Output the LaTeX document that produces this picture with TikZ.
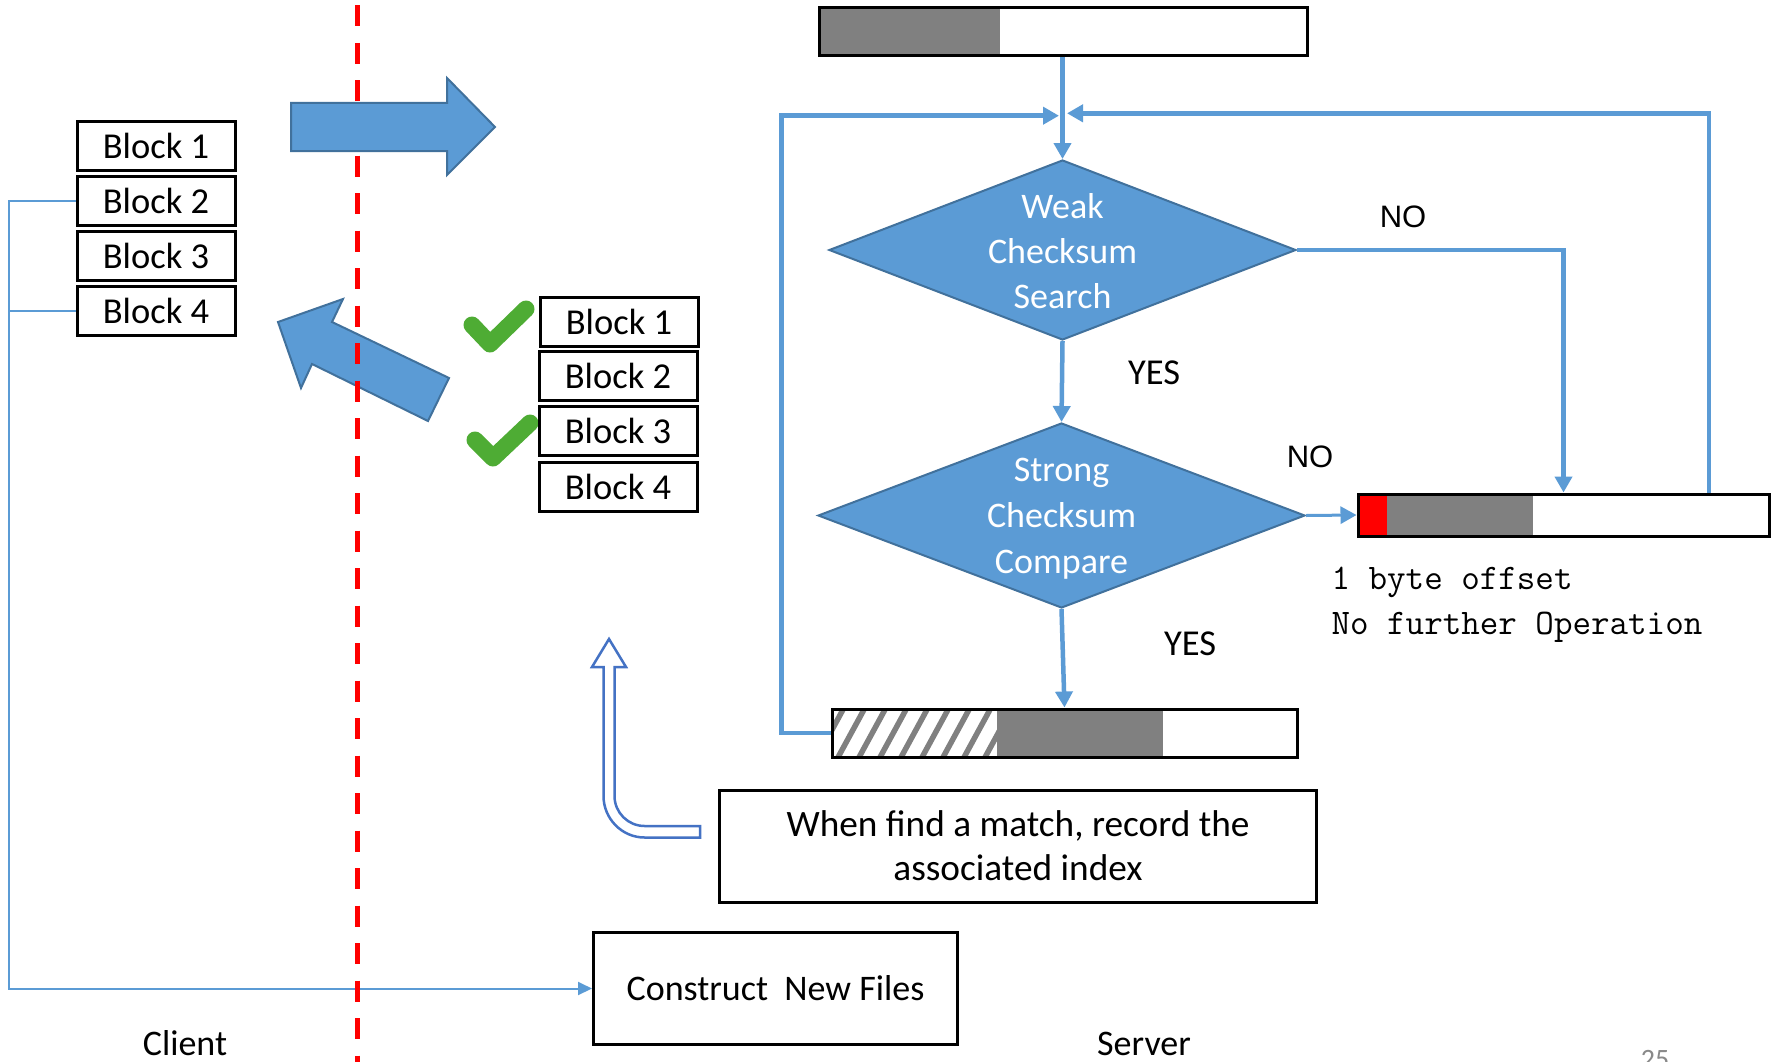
\documentclass[tikz,border=0pt]{standalone}
\usepackage{fontspec}
\setmainfont{Carlito}
\newfontfamily\labelfont{Liberation Sans}
\usetikzlibrary{arrows.meta,shapes.geometric}

\definecolor{flowblue}{RGB}{91,155,213}
\definecolor{edgeblue}{RGB}{65,113,156}
\definecolor{hollowblue}{RGB}{68,114,196}
\definecolor{checkgreen}{RGB}{78,172,52}
\definecolor{bargray}{RGB}{128,128,128}
\definecolor{pagegray}{RGB}{137,137,137}
\definecolor{divider}{RGB}{255,0,0}

\begin{document}
\begin{tikzpicture}[x=1pt,y=-1pt,
  txt/.style={font={\fontsize{36}{45}\selectfont}},
  blockbox/.style={draw=black, line width=3pt, minimum width=158pt,
    minimum height=49pt, inner sep=0pt, font={\fontsize{36.5}{45}\selectfont}},
  textbox/.style={draw=black, line width=3pt, inner sep=0pt, align=center,
    font={\fontsize{36}{44}\selectfont}},
  barbox/.style={draw=black, line width=3pt, inner sep=0pt},
  decision/.style={diamond, fill=flowblue, draw=edgeblue, line width=2pt, inner sep=0pt},
  conn/.style={draw=flowblue, line width=4.5pt, -{Triangle[length=16pt,width=17pt]}},
  bracket/.style={draw=flowblue, line width=2pt, -{Triangle[length=14pt,width=13pt]}},
  bigarrow/.style={fill=flowblue, draw=edgeblue, line width=2pt, line join=miter},
  tick/.style={draw=checkgreen, line width=17pt, line cap=round, line join=round},
  answer/.style={font={\fontsize{36.5}{45}\selectfont}},
  noanswer/.style={font={\labelfont\fontsize{31}{38}\selectfont}}
]
\useasboundingbox (0,0) rectangle (1779,1062);
\fill[white] (0,0) rectangle (1779,1062);

% ---------- client side: the four blocks ----------
\node[blockbox] (lb1) at (156,146) {Block 1};
\node[blockbox] (lb2) at (156,201) {Block 2};
\node[blockbox] (lb3) at (156,256) {Block 3};
\node[blockbox] (lb4) at (156,311) {Block 4};

% ---------- matched blocks returned by the server ----------
\draw[tick] (472,325) -- (490,344) -- (526,309);
\draw[tick] (475,440) -- (493,458) -- (530,423);
\node[blockbox] (rb1) at (619,322) {Block 1};
\node[blockbox] (rb2) at (618,375.5) {Block 2};
\node[blockbox] (rb3) at (618,431) {Block 3};
\node[blockbox] (rb4) at (618,486.5) {Block 4};

% ---------- file bars ----------
\fill[bargray] (819,8) rectangle (1000,56);
\fill[divider] (1358,494) rectangle (1387,536);
\fill[bargray] (1387,494) rectangle (1533,536);
\fill[bargray] (997,709) rectangle (1163,757);
\begin{scope}
  \clip (832,709) rectangle (997,757);
  \foreach \b in {796,817,...,1012}
    \draw[bargray, line width=5.5pt] (\b-2,761) -- (\b+28.5,705);
\end{scope}
\node[barbox, minimum width=488pt, minimum height=48pt] (topbar) at (1063,32) {};
\node[barbox, minimum width=411pt, minimum height=42pt] (rightbar) at (1563.5,515) {};
\node[barbox, minimum width=465pt, minimum height=48pt] (bottombar) at (1064.5,733) {};

% ---------- decisions ----------
\node[decision, minimum width=467pt, minimum height=180pt] (weak) at (1062.5,250) {};
\node[txt, text=white, align=center] (weaklabel) at ([yshift=-1pt]weak.center) {Weak\\Checksum\\Search};
\node[decision, minimum width=487pt, minimum height=185pt] (strong) at (1061.5,515.5) {};
\node[txt, text=white, align=center, font={\fontsize{36}{46}\selectfont}] (stronglabel)
  at ([yshift=-3.5pt]strong.center) {Strong\\Checksum\\Compare};

% ---------- flow connectors ----------
\coordinate (jl) at (1059,115.7);
\coordinate (jr) at (1067,113.3);
\draw[conn] (weak.north |- topbar.south) -- (weak.north);
\draw[conn] (bottombar.west) -- ++(-49,0) |- (jl);
\draw[conn] ([xshift=145.5pt]rightbar.north) |- (jr);
\draw[conn] (weak.east) -| (rightbar.north);
\draw[conn] (weak.south) -- (strong.north);
\draw[conn, line width=3pt] (strong.east) -- (rightbar.west);
\draw[conn] (strong.south) -- (bottombar.north);

\node[noanswer] (no1) at (1403,217) {NO};
\node[noanswer] (no2) at (1310,457) {NO};
\node[answer] (yes1) at (1154,373) {YES};
\node[answer] (yes2) at (1190,644) {YES};
\node[anchor=west, align=left, font={\ttfamily\fontsize{36}{45}\selectfont}] (offsetnote)
  at (1328,605) {1 byte offset\\No further Operation};

% ---------- notes ----------
\node[textbox, minimum width=597pt, minimum height=112pt,
  font={\fontsize{37.3}{44}\selectfont}] (matchnote) at (1018,846)
  {When find a match, record the\\associated index};
\node[textbox, minimum width=364pt, minimum height=112pt] (construct) at (775.5,988.5)
  {Construct\ \ New Files};

% hollow bent arrow pointing up to the matched blocks
\draw[hollowblue, line width=2.5pt, fill=white, line join=miter]
  (700,826) -- (644.5,826)
  .. controls (628,826) and (614.5,812.5) .. (614.5,796)
  -- (614.5,667) -- (626,667) -- (609,639) -- (592,667) -- (603.5,667)
  -- (603.5,796)
  .. controls (603.5,818.6) and (621.9,837.5) .. (644.5,837.5)
  -- (700,837.5) -- cycle;

% client-side bracket feeding the reconstruction
\draw[bracket] (lb2.west) -- ++(-67,0) |- (construct.west);
\draw[draw=flowblue, line width=2pt] (lb4.west) -- ++(-67,0);

% ---------- transfers across the network ----------
\draw[bigarrow] (278,322) -- (343,299) -- (332,322) -- (449,378) -- (428,421)
  -- (312,364) -- (301,388) -- cycle;
\draw[divider, line width=5pt, dash pattern=on 21pt off 16.5pt] (357,5.5) -- (357,1062);
\draw[bigarrow] (291,103) -- (447,103) -- (447,78) -- (495,127) -- (447,175)
  -- (447,151) -- (291,151) -- cycle;

% ---------- side captions ----------
\node[txt, anchor=base, inner sep=0pt] (client) at (185,1055) {Client};
\node[txt, anchor=base, inner sep=0pt] (server) at (1144,1055) {Server};
\node[anchor=base, inner sep=0pt, text=pagegray, font={\fontsize{28}{34}\selectfont}] (pageno) at (1655,1068) {25};
\end{tikzpicture}
\end{document}
